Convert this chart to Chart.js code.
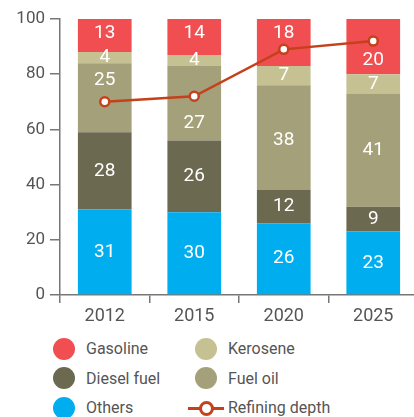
<!DOCTYPE html>
<html>
<head>
<meta charset="utf-8">
<script src="https://cdn.jsdelivr.net/npm/chart.js@4/dist/chart.umd.min.js"></script>
<style>
  html, body { margin: 0; padding: 0; background: #fff; overflow: hidden; }
  #wrap { position: relative; width: 414px; height: 417px; overflow: hidden; }
  #chart { position: absolute; left: 0; top: 0; }
  #legend {
    position: absolute; left: 53px; top: 334px;
    display: grid; grid-template-columns: 142px auto; grid-auto-rows: 29.5px;
    font-family: Roboto, sans-serif; font-size: 16px; color: #555;
  }
  .item { display: flex; align-items: center; white-space: nowrap; }
  .dot { width: 22px; height: 22px; border-radius: 50%; margin-right: 11px; }
  .lineMark { position: relative; width: 36px; height: 22px; margin-left: -7px; margin-right: 4px; }
  .lineMark .bar { position: absolute; left: 0; right: 0; top: 10px; height: 3px; }
  .lineMark .pt { position: absolute; left: 11px; top: 4px; width: 9px; height: 9px; border-radius: 50%; background: #fff; border: 3px solid; }
</style>
</head>
<body>
<div id="wrap">
  <canvas id="chart" width="425" height="332"></canvas>
  <div id="legend"></div>
</div>
<script>
// Datos del gráfico
const years = ['2012', '2015', '2020', '2025'];
const others = [31, 30, 26, 23];
const diesel = [28, 26, 12, 9];
const fuelOil = [25, 27, 38, 41];
const kerosene = [4, 4, 7, 7];
const gasoline = [13, 14, 18, 20];
const refiningDepth = [70, 72, 89, 92];
const yTicks = [0, 20, 40, 60, 80, 100];

// Desplazamiento vertical (px) de algunas etiquetas para no tapar la línea
const labelNudge = {
    'Gasoline': [-2, -4, -9, 14],
    'Fuel oil': [-17, 20, 3, 0]
};

const legendOrder = ['Gasoline', 'Kerosene', 'Diesel fuel', 'Fuel oil', 'Others', 'Refining depth'];
const fontFamily = 'Roboto, sans-serif';
const axisColor = '#777';
const lineColor = '#c4411b';

// Plugin para dibujar los valores dentro de las barras
const barLabels = {
    id: 'barLabels',
    afterDatasetsDraw(chart) {
        const ctx = chart.ctx;
        const area = chart.chartArea;
        ctx.save();
        ctx.font = '19px ' + fontFamily;
        ctx.fillStyle = '#fff';
        ctx.textAlign = 'center';
        ctx.textBaseline = 'middle';
        chart.data.datasets.forEach(function (ds, i) {
            if (ds.type === 'line') return;
            const meta = chart.getDatasetMeta(i);
            meta.data.forEach(function (bar, j) {
                const top = Math.max(bar.y, area.top);
                const nudge = labelNudge[ds.label] ? labelNudge[ds.label][j] : 0;
                ctx.fillText(ds.data[j], bar.x, (top + bar.base) / 2 + nudge);
            });
        });
        ctx.restore();
    }
};

function barSet(label, data, color) {
    return {
        type: 'bar', label: label, data: data, backgroundColor: color,
        stack: 'mix', order: 1, barPercentage: 0.6, categoryPercentage: 1
    };
}

const chart = new Chart(document.getElementById('chart'), {
    type: 'bar',
    data: {
        labels: years,
        datasets: [
            {
                type: 'line', label: 'Refining depth', data: refiningDepth, order: 0,
                borderColor: lineColor, borderWidth: 2.5, backgroundColor: '#fff',
                pointRadius: 4.5, pointBorderWidth: 2.5, pointBackgroundColor: '#fff',
                pointBorderColor: lineColor, tension: 0
            },
            barSet('Others', others, '#00aeef'),
            barSet('Diesel fuel', diesel, '#6b6950'),
            barSet('Fuel oil', fuelOil, '#a4a07a'),
            barSet('Kerosene', kerosene, '#c5c193'),
            barSet('Gasoline', gasoline, '#f04e50')
        ]
    },
    options: {
        responsive: false,
        animation: false,
        layout: { padding: { top: 19, left: 0, right: 0, bottom: 0 } },
        plugins: { legend: { display: false }, tooltip: { enabled: false } },
        scales: {
            x: {
                stacked: true,
                offset: true,
                grid: { offset: true, drawOnChartArea: false, drawTicks: true, tickLength: 8, color: axisColor, lineWidth: 1.5 },
                border: { display: true, color: axisColor, width: 1.5 },
                ticks: { color: '#555', font: { family: fontFamily, size: 18 }, padding: 3 },
                afterFit: function (scale) { scale.height = 37; }
            },
            y: {
                stacked: true,
                min: 0, max: 100,
                afterBuildTicks: function (scale) { scale.ticks = yTicks.map(v => ({ value: v })); },
                grid: { drawOnChartArea: false, drawTicks: true, tickLength: 10, color: axisColor, lineWidth: 1.5 },
                border: { display: true, color: axisColor, width: 1.5 },
                ticks: { color: '#555', font: { family: fontFamily, size: 17 }, padding: 5 },
                afterFit: function (scale) { scale.width = 60; }
            }
        }
    },
    plugins: [barLabels]
});

// Leyenda en HTML, en dos columnas
const legend = document.getElementById('legend');
legendOrder.forEach(function (name) {
    const ds = chart.data.datasets.find(d => d.label === name);
    const item = document.createElement('div');
    item.className = 'item';
    if (ds.type === 'line') {
        item.innerHTML = '<span class="lineMark"><span class="bar" style="background:' + lineColor +
            '"></span><span class="pt" style="border-color:' + lineColor + '"></span></span>' + name;
    } else {
        item.innerHTML = '<span class="dot" style="background:' + ds.backgroundColor + '"></span>' + name;
    }
    legend.appendChild(item);
});
</script>
</body>
</html>
